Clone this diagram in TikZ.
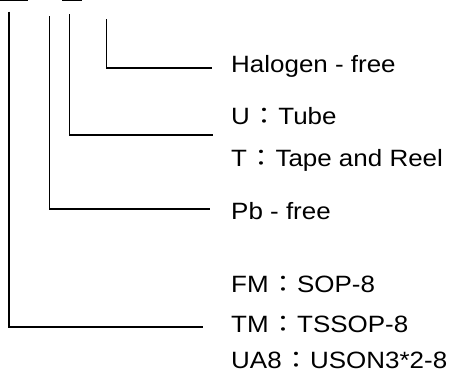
\documentclass[tikz,border=0pt]{standalone}
\usepackage{fontspec}
\setmainfont[FakeStretch=1.1]{Liberation Sans}
\newfontfamily\cjk[FakeStretch=1.1]{Noto Sans CJK TC}
\newcommand{\fc}{{\hspace{1.5pt}\cjk ：\hspace{1pt}}}
\begin{document}
\begin{tikzpicture}[x=1pt,y=1pt,
  lbl/.style={anchor=base west,inner sep=0pt,font=\fontsize{23.6}{28}\selectfont},
  conn/.style={line width=1.3pt,line cap=butt}]
\useasboundingbox (0,0) rectangle (449,-372);
% top stubs (cut-off underlines)
\coordinate (s1a) at (0,-0.5);
\coordinate (s1b) at (28.3,-0.5);
\coordinate (s2a) at (62.3,-0.5);
\coordinate (s2b) at (81.7,-0.5);
\draw[conn] (s1a) -- (s1b);
\draw[conn] (s2a) -- (s2b);
% labels
\node[lbl] (hal) at (231,-72.5) {Halogen - free};
\node[lbl] (u)   at (231,-124.5) {U\fc Tube};
\node[lbl] (t)   at (231,-166.5) {T\fc Tape and Reel};
\node[lbl] (pb)  at (231,-219) {Pb - free};
\node[lbl] (fm)  at (231,-292.5) {FM\fc SOP-8};
\node[lbl] (tm)  at (231,-332.5) {TM\fc TSSOP-8};
\node[lbl] (ua)  at (231,-368.5) {UA8\fc USON3*2-8};
% connector ends
\coordinate (c4t) at (106.7,-19.3);
\coordinate (c4e) at (211.7,-68);
\coordinate (c3t) at (69.3,-14.3);
\coordinate (c3e) at (212.7,-135);
\coordinate (c2t) at (49.3,-16);
\coordinate (c2e) at (210,-209);
\coordinate (c1t) at (9,-11.7);
\coordinate (c1e) at (203.3,-327);
\draw[conn] (c4t) |- (c4e);
\draw[conn] (c3t) |- (c3e);
\draw[conn] (c2t) |- (c2e);
\draw[conn] (c1t) |- (c1e);
\end{tikzpicture}
\end{document}
